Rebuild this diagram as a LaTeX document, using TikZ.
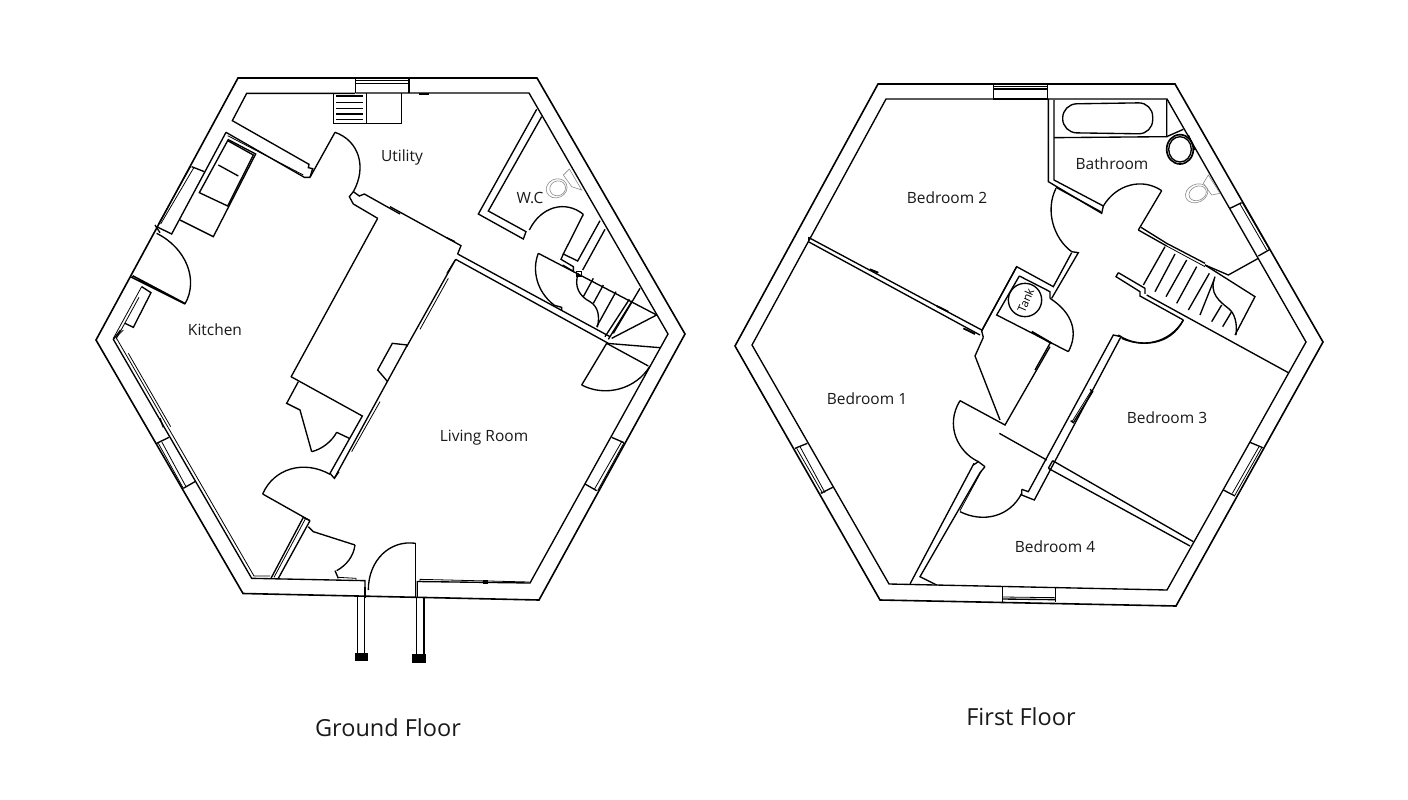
\documentclass[tikz,border=0pt]{standalone}
\usepackage{fontspec}
\usetikzlibrary{calc}
\setmainfont{Open Sans}
\tikzset{
  wl/.style={line width=1.35pt,black,line join=miter},
  wo/.style={line width=1.6pt,black,line join=miter},
  tn/.style={line width=.8pt,black},
  gy/.style={line width=.6pt,black!45},
  lbl/.style={font=\fontsize{15.5}{17}\selectfont,inner sep=0pt,text=black!90},
  ttl/.style={font=\fontsize{23.5}{26}\selectfont,inner sep=0pt,text=black!90},
  za/.style={shift={(90,70)},scale=1/3},
  zb/.style={shift={(390,70)},scale=1/3},
  zc/.style={shift={(100,330)},scale=1/3},
  zd/.style={shift={(400,400)},scale=1/3},
  ze/.style={shift={(970,70)},scale=1/3},
  zf/.style={shift={(900,250)},scale=1/3},
  zg/.style={shift={(730,200)},scale=1/3},
  zh/.style={shift={(1140,180)},scale=1/3},
  zi/.style={shift={(330,70)},scale=1/3},
}
% quarter-circle door swing: hinge, leaf end, other end
\newcommand{\qarc}[3]{\draw[wl] #2 .. controls ($#2+0.5523*#3-0.5523*#1$) and ($#3+0.5523*#2-0.5523*#1$) .. #3;}
\begin{document}
\begin{tikzpicture}[x=1pt,y=-1pt]
\useasboundingbox (0,0) rectangle (1408,800);
\fill[white] (0,0) rectangle (1408,800);
%==== GROUND FLOOR ====
\draw[wo] (238,78) -- (537,78) -- (685,334) -- (539,600) -- (243,593.5) -- (96,340) -- cycle;
% --- top-left
\begin{scope}[za]
\draw[wl] (795,70) -- (470,70) -- (427,152) -- (657,283) -- (655,293) -- (668,296) -- (660,322);
\draw[wl] (660,322) -- (735,187);
\qarc{(660,320)}{(735,187)}{(790,365)}
\draw[wl] (408,187) -- (643,322) -- (660,322);
\draw[tn] (413,197) -- (640,315);
\draw[wl] (408,187) -- (245,492) -- (200,470);
\draw[wl] (305,290) -- (343,305);
\draw[tn] (312,292) -- (212,462);
\draw[tn] (303,288) -- (205,462);
\draw[wl] (413,208) -- (497,252) -- (370,500) -- (270,450);
\draw[wl] (413,212) -- (490,255) -- (413,408) -- (328,368) -- cycle;
\draw[wl] (385,285) -- (445,318);
\qarc{(125,622)}{(285,702)}{(200,490)}
\draw[wl] (285,702) -- (125,622) -- (130,618) -- (285,700);
\draw[wl] (155,650) -- (183,668) -- (130,772) -- (105,760);
\draw[tn] (155,650) -- (70,805);
\draw[tn] (147,682) -- (78,808);
\draw[wl] (195,465) -- (210,488);
% utility wall
\draw[wl] (790,365) -- (778,380) -- (790,402) -- (863,445);
\draw[wl] (790,365) -- (808,378) -- (823,372) -- (930,432);
\draw[wl] (863,445) -- (603,921);
\end{scope}
% --- utility box / window
\begin{scope}[zi]
\draw[wl] (77,25) -- (77,70); \draw[wl] (237,25) -- (237,70);
\draw[tn] (77,31) -- (237,31);
\draw[wl] (77,40) -- (237,40);
\draw[wl] (10,70) -- (10,160) -- (215,160) -- (215,70);
\draw[wl] (110,70) -- (110,160);
\foreach \yy in {78,98,115,132,148} \draw[wl] (18,\yy) -- (100,\yy);
\draw[wl] (268,72) -- (298,72);
\end{scope}
\draw[wl] (355.7,93) -- (529,93) -- (668,334) -- (530,583) -- (417.3,581.5) -- (417.3,597);
% --- right part
\begin{scope}[zb]
\draw[wl] (0,410) -- (213,527) -- (203,552);
\draw[wl] (203,552) -- (660,800);
\draw[wl] (197,568) -- (655,820);
\draw[wl] (197,568) -- (50,830);
\draw[tn] (195,570) -- (170,610);
\draw[tn] (90,778) -- (175,625);
\draw[wl] (170,503) -- (195,515);
% W.C.
\draw[wl] (440,118) -- (265,432) -- (400,507) -- (408,485) -- (295,423) -- (455,140);
\qarc{(517,560)}{(580,433)}{(418,480)}
\draw[wl] (580,433) -- (520,552) -- (563,573) -- (630,452);
\draw[wl] (645,478) -- (578,600);
\draw[wl] (520,552) -- (513,568) -- (550,590) -- (550,604) -- (518,585);
% living door arc and stairs
\draw[wl] (445,550) -- (800,735);
\draw[wl] (445,550) .. controls (425,600) and (440,665) .. (492,705);
\draw[wl] (490,705) -- (515,712) -- (515,722);
\draw[wl] (560,605) rectangle (575,618);
\draw[wl] (565,610) .. controls (550,650) and (570,680) .. (600,695) .. controls (625,710) and (630,740) .. (622,772);
\draw[wl] (610,625) -- (580,680);
\draw[wl] (640,645) -- (610,700);
\draw[wl] (678,665) -- (620,770);
\draw[wl] (718,688) -- (645,800);
\draw[wl] (727,692) -- (655,808);
\draw[wl] (750,655) -- (670,790);
\draw[wl] (800,735) -- (665,805);
\draw[wl] (650,820) -- (810,833);
\draw[wl] (650,820) -- (775,888);
\draw[wl] (650,820) -- (575,945);
\qarc{(650,820)}{(575,945)}{(780,888)}
% WC toilet
\draw[gy,rotate around={25:(500,355)}] (500,355) ellipse (32 and 28);
\draw[gy,rotate around={25:(503,355)}] (503,355) ellipse (24 and 22);
\draw[gy] (520,315) -- (538,297) -- (575,360) -- (545,350) -- (520,315);
\end{scope}
% --- bottom-left
\begin{scope}[zc]
\draw[wl] (62,0) -- (40,28) -- (455,745) -- (795,752) -- (795,800);
\draw[tn] (70,0) -- (48,22) -- (462,738) -- (510,738);
\draw[tn] (85,70) -- (212,290);
\draw[wl] (170,340) -- (207,322);
\draw[wl] (250,475) -- (285,455);
\draw[tn] (175,340) -- (250,475);
\draw[tn] (185,335) -- (258,470);
\draw[wl] (180,265) -- (190,292);
% door to left wall
\draw[wl] (630,572) -- (535,745);
\draw[wl] (610,562) -- (513,745);
\draw[tn] (617,565) -- (522,742);
\draw[wl] (610,562) -- (630,572);
\draw[wl] (630,572) -- (488,492);
\qarc{(630,572)}{(488,492)}{(690,433)}
\draw[wl] (625,590) -- (640,605) -- (765,645);
\draw[wl] (765,645) .. controls (760,680) and (740,705) .. (710,722);
\draw[wl] (705,722) -- (715,745);
\draw[tn] (715,742) -- (768,745) -- (768,752);
% closet
\draw[wl] (573,140) -- (787,258) -- (690,430) -- (703,445) -- (717,425);
\draw[wl] (595,155) -- (560,220) -- (600,240) -- (635,365);
\draw[wl] (635,365) .. controls (665,358) and (695,335) .. (710,307);
\draw[wl] (710,307) -- (748,325);
\draw[wl] (703,445) -- (922,45);
\draw[wl] (863,155) -- (833,120) -- (877,40) -- (922,45);
\draw[tn] (755,365) -- (840,215);
% front door and steps
\qarc{(947,800)}{(947,640)}{(805,780)}
\draw[wl] (947,640) -- (947,800);
\draw[wl] (772,800) -- (772,970);
\draw[wl] (793,800) -- (793,970);
\draw[wl] (950,805) -- (950,975);
\draw[wl] (972,805) -- (972,975);
\draw[line width=2pt] (795,770) -- (795,805);
\fill (765,968) rectangle (805,993);
\fill (937,973) rectangle (977,998);
\end{scope}
% --- bottom-right
\begin{scope}[zd]
\draw[tn] (60,546) -- (60,538) -- (388,546);
\fill (248,541) rectangle (265,552);
\draw[wl] (555,252) -- (590,272);
\draw[wl] (635,112) -- (672,128);
\draw[tn] (583,268) -- (665,125);
\draw[tn] (593,272) -- (672,128);
\end{scope}
%==== FIRST FLOOR ====
\draw[wo] (878,84) -- (1175,84) -- (1323,342) -- (1176,606) -- (880,600) -- (735,346) -- cycle;
\draw[wl] (993,99) -- (886,99) -- (752,345) -- (889,584) -- (1167,590) -- (1306,342) -- (1167,99) -- (1048,99);
\begin{scope}[ze]
\draw[wl] (70,42) -- (70,87) -- (232,87) -- (232,42);
\draw[tn] (70,49) -- (232,49);
\draw[wl] (70,57) -- (232,57);
\draw[wl] (235,87) -- (235,335) -- (395,430) -- (400,408) -- (252,330) -- (252,90);
\draw[wl] (258,352) -- (392,425);
\draw[wl] (590,88) -- (590,200) -- (252,203);
\draw[wl,rounded corners=14pt] (278,102) -- (548,98) -- (548,192) -- (278,188) -- cycle;
\draw[line width=1.7pt] (630,238) ellipse (40 and 44);
\draw[wl] (630,238) ellipse (34 and 38);
\draw[wl] (590,200) -- (640,178);
\draw[wl] (655,195) -- (675,240);
% gray toilet
\draw[gy,rotate around={25:(680,370)}] (680,370) ellipse (35 and 27);
\draw[gy,rotate around={25:(683,370)}] (683,370) ellipse (27 and 21);
\draw[gy] (700,340) -- (715,315) -- (750,370) -- (725,375) -- (700,340);
% doors
\draw[wl] (258,355) .. controls (225,420) and (250,505) .. (305,545);
\qarc{(505,480)}{(575,362)}{(400,408)}
\draw[wl] (575,362) -- (505,480);
\draw[wl] (305,545) -- (325,548) -- (245,685);
\draw[wl] (305,548) -- (250,650) -- (140,590) -- (35,782);
\draw[wl] (148,618) -- (240,665) -- (240,685);
\draw[wl] (148,618) -- (80,735) -- (295,845);
\draw[line width=2pt] (185,785) -- (245,820);
\draw[wl] (240,685) .. controls (310,730) and (325,790) .. (295,845);
\draw[wl] (165,690) circle (50);
\node[font=\fontsize{11.5}{13}\selectfont,rotate=66,inner sep=0pt] (tank) at (167,692) {Tank};
\draw[wl] (240,820) -- (195,900);
% stair block upper wall
\draw[wl] (505,480) -- (590,528);
\draw[wl] (513,472) -- (590,520) -- (705,580);
\draw[tn] (590,528) -- (705,590);
\draw[wl] (705,585) -- (775,615) -- (865,565);
\end{scope}
\begin{scope}[zh]
\draw[wl] (195,255) -- (345,350) -- (285,465);
\draw[wl] (20,345) -- (445,578);
\draw[wl] (75,200) -- (10,315);
\draw[wl] (105,222) -- (45,335);
\draw[wl] (140,240) -- (78,350);
\draw[wl] (170,260) -- (110,370);
\draw[wl] (208,280) -- (145,390);
\draw[wl] (222,300) -- (180,405);
\draw[wl] (245,375) -- (215,425);
\draw[wl] (275,395) -- (248,440);
\draw[wl] (225,290) .. controls (205,340) and (240,365) .. (265,385) .. controls (285,400) and (292,430) .. (288,465);
\draw[wl] (270,85) -- (305,68);
\draw[wl] (355,228) -- (390,208);
\draw[tn] (300,72) -- (380,210);
\draw[tn] (307,68) -- (388,208);
\draw[wl] (330,787) -- (368,803);
\draw[wl] (250,930) -- (285,948);
\draw[tn] (357,800) -- (277,940);
\draw[tn] (365,803) -- (285,945);
\end{scope}
\begin{scope}[ze]
\draw[wl] (510,678) -- (640,750);
\draw[wl] (445,608) -- (438,620) -- (510,665) -- (510,680);
\draw[wl] (445,608) -- (525,655) -- (525,672);
\draw[wl] (640,750) .. controls (600,820) and (510,840) .. (445,795);
\end{scope}
\begin{scope}[zf]
\draw[wl] (245,243) -- (350,50);
\draw[wl] (250,262) -- (225,318) -- (300,510);
\draw[wl] (245,243) -- (250,262);
\draw[wl] (450,290) -- (315,525) -- (180,452);
\draw[wl] (180,452) .. controls (135,525) and (172,605) .. (235,635);
\draw[wl] (220,645) -- (235,635) -- (255,650);
\draw[wl] (222,640) -- (30,1002);
\draw[wl] (255,650) -- (240,668) -- (60,980) -- (110,1005);
\draw[tn] (245,662) -- (180,782);
\draw[wl] (180,785) .. controls (250,820) and (330,800) .. (365,730);
\draw[wl] (365,718) -- (365,735) -- (403,750) -- (663,260);
\draw[wl] (365,718) -- (385,725) -- (640,255) -- (663,260);
\draw[wl] (570,418) -- (578,425) -- (520,518) -- (512,512);
\draw[tn] (574,422) -- (516,515);
\draw[wl] (665,265) .. controls (720,290) and (810,290) .. (850,210);
\draw[wl] (298,550) -- (440,630);
\draw[wl] (458,632) -- (880,875);
\draw[wl] (445,655) -- (870,888);
\draw[wl] (445,655) -- (458,632);
\draw[wl] (307,1012) -- (307,1055);
\draw[wl] (466,1015) -- (466,1057);
\draw[tn] (307,1041) -- (466,1043);
\draw[wl] (307,1047) -- (466,1049);
\end{scope}
\begin{scope}[zg]
\draw[wl] (235,112) -- (755,390);
\draw[wl] (235,125) -- (750,405);
\draw[wl] (235,112) -- (235,125);
\draw[line width=1.8pt] (420,208) -- (445,218);
\draw[line width=1.8pt] (620,318) -- (655,335);
\draw[line width=1.8pt] (700,385) -- (735,402);
\draw[wl] (195,745) -- (232,730);
\draw[wl] (272,880) -- (308,862);
\draw[tn] (200,745) -- (278,880);
\draw[tn] (210,740) -- (285,878);
\end{scope}
% labels
\node[lbl] (kit) at (215,330) {Kitchen};
\node[lbl] (uti) at (402,157) {Utility};
\node[lbl] (wc) at (530,198) {W.C};
\node[lbl] (liv) at (484,438) {Living Room};
\node[ttl] (gf) at (388,728) {Ground Floor};
\node[lbl] (bt) at (1112,164) {Bathroom};
\node[lbl] (b2) at (947,198) {Bedroom 2};
\node[lbl] (b1) at (867,399) {Bedroom 1};
\node[lbl] (b3) at (1167,418) {Bedroom 3};
\node[lbl] (b4) at (1055,547) {Bedroom 4};
\node[ttl] (ff) at (1021,717) {First Floor};
\end{tikzpicture}
\end{document}
